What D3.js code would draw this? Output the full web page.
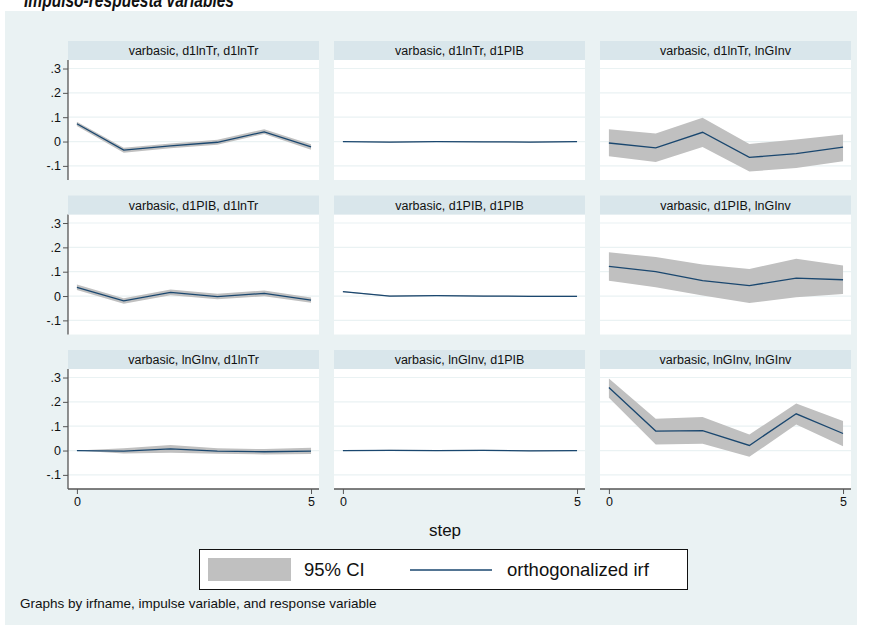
<!DOCTYPE html>
<html>
<head>
<meta charset="utf-8">
<script src="https://cdn.jsdelivr.net/npm/d3@7"></script>
<style>
  body { margin: 0; background: #fff; }
  svg text { font-family: "Liberation Sans", Arial, sans-serif; fill: #111; }
</style>
</head>
<body>
<div id="chart"></div>
<script>
// panel order: impulse (rows) x response (columns)
var impulses = ["d1lnTr", "d1PIB", "lnGInv"];
var responses = ["d1lnTr", "d1PIB", "lnGInv"];
var steps = [0, 1, 2, 3, 4, 5];
var yTicks = [0.3, 0.2, 0.1, 0, -0.1];
var yTickLabels = [".3", ".2", ".1", "0", "-.1"];
var xTicks = [0, 5];

var irf = [
  [0.073, -0.035, -0.018, -0.003, 0.040, -0.022],
  [0.000, -0.002, 0.000, -0.001, -0.002, 0.000],
  [-0.006, -0.026, 0.038, -0.065, -0.050, -0.023],
  [0.036, -0.020, 0.015, -0.002, 0.011, -0.017],
  [0.018, 0.000, 0.002, 0.000, -0.001, -0.001],
  [0.122, 0.100, 0.063, 0.043, 0.074, 0.067],
  [0.000, -0.002, 0.007, -0.002, -0.005, -0.002],
  [0.000, 0.001, 0.000, 0.001, -0.001, 0.000],
  [0.259, 0.080, 0.082, 0.021, 0.151, 0.070]
];
var ciLow = [
  [0.064, -0.046, -0.028, -0.013, 0.031, -0.034],
  [-0.001, -0.004, -0.002, -0.003, -0.004, -0.002],
  [-0.060, -0.084, -0.022, -0.123, -0.109, -0.081],
  [0.025, -0.032, 0.003, -0.013, -0.001, -0.028],
  [0.016, -0.002, 0.000, -0.002, -0.003, -0.003],
  [0.063, 0.036, 0.002, -0.029, -0.005, 0.008],
  [0.000, -0.012, -0.009, -0.013, -0.016, -0.014],
  [0.000, -0.001, -0.002, -0.001, -0.003, -0.002],
  [0.217, 0.025, 0.028, -0.026, 0.107, 0.018]
];
var ciHigh = [
  [0.081, -0.026, -0.008, 0.007, 0.051, -0.011],
  [0.001, 0.000, 0.002, 0.001, 0.000, 0.002],
  [0.050, 0.033, 0.098, -0.010, 0.008, 0.029],
  [0.047, -0.009, 0.027, 0.009, 0.023, -0.006],
  [0.020, 0.002, 0.004, 0.002, 0.001, 0.001],
  [0.180, 0.160, 0.130, 0.111, 0.153, 0.125],
  [0.000, 0.009, 0.023, 0.009, 0.006, 0.011],
  [0.000, 0.003, 0.002, 0.003, 0.001, 0.002],
  [0.296, 0.131, 0.138, 0.066, 0.193, 0.121]
];

var width = 871, height = 639;
var colLeft = [68, 334, 600];
var rowTop = [41, 195.5, 350];
var panelW = 251, stripH = 19, plotH = 120;

var svg = d3.select("#chart").append("svg")
    .attr("width", width)
    .attr("height", height);

// title, cropped at the top edge as in the source image
svg.append("text")
    .attr("x", 24)
    .attr("y", 7)
    .attr("font-size", 20)
    .attr("font-weight", "bold")
    .attr("font-style", "italic")
    .attr("textLength", 210)
    .attr("lengthAdjust", "spacingAndGlyphs")
    .text("Impulso-respuesta variables");

svg.append("rect")
    .attr("x", 5).attr("y", 11)
    .attr("width", 852).attr("height", 614)
    .attr("fill", "#eaf2f3");

var x = d3.scaleLinear().domain([-0.19, 5.17]).range([0, panelW]);
var y = d3.scaleLinear().domain([-0.158, 0.335]).range([plotH, 0]);

var area = d3.area()
    .x(function(d){ return x(d.step); })
    .y0(function(d){ return y(d.lo); })
    .y1(function(d){ return y(d.hi); });

var line = d3.line()
    .x(function(d){ return x(d.step); })
    .y(function(d){ return y(d.v); });

impulses.forEach(function(imp, r){
  responses.forEach(function(resp, c){
    var k = r*3 + c;
    var g = svg.append("g")
        .attr("transform", "translate(" + colLeft[c] + "," + (rowTop[r] + stripH) + ")");

    svg.append("rect")
        .attr("x", colLeft[c]).attr("y", rowTop[r])
        .attr("width", panelW).attr("height", stripH)
        .attr("fill", "#d9e6eb");
    svg.append("text")
        .attr("x", colLeft[c] + panelW/2)
        .attr("y", rowTop[r] + 14)
        .attr("text-anchor", "middle")
        .attr("font-size", 12.5)
        .text("varbasic, " + imp + ", " + resp);

    g.append("rect")
        .attr("width", panelW).attr("height", plotH)
        .attr("fill", "#fff");

    g.selectAll("line.grid")
        .data(yTicks)
        .enter().append("line")
        .attr("class", "grid")
        .attr("x1", 0).attr("x2", panelW)
        .attr("y1", function(d){ return y(d); })
        .attr("y2", function(d){ return y(d); })
        .attr("stroke", "#eaf2f3")
        .attr("stroke-width", 1.2);

    var pts = steps.map(function(s, i){
      return {step: s, v: irf[k][i], lo: ciLow[k][i], hi: ciHigh[k][i]};
    });

    g.append("path")
        .datum(pts)
        .attr("d", area)
        .attr("fill", "#c0c0c0");
    g.append("path")
        .datum(pts)
        .attr("d", line)
        .attr("fill", "none")
        .attr("stroke", "#1a476f")
        .attr("stroke-width", 1.3);

    if (c == 0) {
      var ya = g.append("g")
          .call(d3.axisLeft(y).tickValues(yTicks).tickSize(5).tickPadding(2)
            .tickFormat(function(d, i){ return yTickLabels[i]; }));
      ya.select(".domain").attr("stroke", "#555").attr("stroke-width", 1.3)
          .attr("d", "M0,0V" + plotH);
      ya.selectAll(".tick line").attr("stroke", "#555");
      ya.selectAll(".tick text")
          .attr("font-size", 12.5)
          .attr("font-family", "Liberation Sans, Arial, sans-serif")
          .attr("fill", "#111");
    }
    if (r == 2) {
      var xa = g.append("g")
          .attr("transform", "translate(0," + plotH + ")")
          .call(d3.axisBottom(x).tickValues(xTicks).tickSize(5).tickPadding(3)
            .tickFormat(d3.format("d")));
      xa.select(".domain").attr("stroke", "#555").attr("stroke-width", 1.3)
          .attr("d", "M0,0H" + panelW);
      xa.selectAll(".tick line").attr("stroke", "#555");
      xa.selectAll(".tick text")
          .attr("font-size", 12.5)
          .attr("font-family", "Liberation Sans, Arial, sans-serif")
          .attr("fill", "#111");
    }
  });
});

svg.append("text")
    .attr("x", 445).attr("y", 536)
    .attr("text-anchor", "middle")
    .attr("font-size", 17)
    .text("step");

// legend
var lg = svg.append("g");
lg.append("rect")
    .attr("x", 199.5).attr("y", 549.5)
    .attr("width", 488).attr("height", 40)
    .attr("fill", "#fff").attr("stroke", "#111").attr("stroke-width", 1);
lg.append("rect")
    .attr("x", 208).attr("y", 558)
    .attr("width", 83).attr("height", 23)
    .attr("fill", "#c0c0c0");
lg.append("text")
    .attr("x", 304).attr("y", 576)
    .attr("font-size", 18.5)
    .text("95% CI");
lg.append("line")
    .attr("x1", 410).attr("x2", 492)
    .attr("y1", 570).attr("y2", 570)
    .attr("stroke", "#1a476f").attr("stroke-width", 1.5);
lg.append("text")
    .attr("x", 507).attr("y", 576)
    .attr("font-size", 18.5)
    .text("orthogonalized irf");

svg.append("text")
    .attr("x", 20).attr("y", 608)
    .attr("font-size", 13.5)
    .text("Graphs by irfname, impulse variable, and response variable");
</script>
</body>
</html>
